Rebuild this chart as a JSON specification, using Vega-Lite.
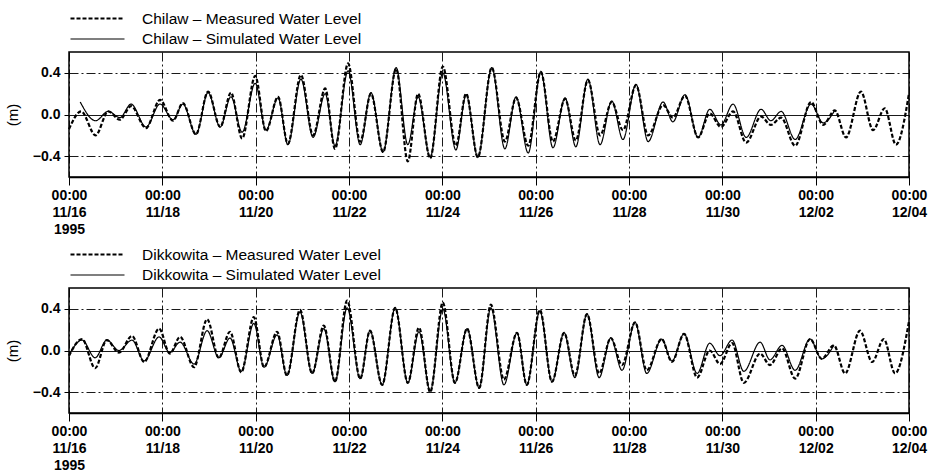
{
  "$schema": "https://vega.github.io/schema/vega-lite/v6.json",
  "background": "white",
  "padding": {"left": 4, "top": 7, "right": 20, "bottom": 2},
  "spacing": 6,
  "config": {
    "font": "Liberation Sans",
    "view": {"stroke": "black", "strokeWidth": 1.5},
    "axis": {
      "labelColor": "black", "titleColor": "black", "domainColor": "black", "tickColor": "black",
      "gridColor": "black", "gridOpacity": 1, "gridWidth": 0.9
    },
    "legend": {
      "orient": "top", "direction": "vertical", "title": null,
      "symbolType": "M-1,0L5,0", "symbolSize": 324, "symbolStrokeColor": "black", "symbolStrokeWidth": 1.6,
      "symbolFillColor": "transparent",
      "labelFontSize": 15.5, "labelColor": "black", "labelOffset": 52, "labelLimit": 0, "rowPadding": 2, "offset": 4, "padding": 0
    }
  },
  "datasets": {
    "chilaw": [
      {"day":0,"level":-0.14,"series":"Measured"},{"day":0.26,"level":0.03,"series":"Measured"},{"day":0.57,"level":-0.2,"series":"Measured"},{"day":0.84,"level":0.03,"series":"Measured"},{"day":1.09,"level":-0.05,"series":"Measured"},{"day":1.33,"level":0.08,"series":"Measured"},{"day":1.65,"level":-0.13,"series":"Measured"},{"day":1.95,"level":0.14,"series":"Measured"},{"day":2.23,"level":-0.06,"series":"Measured"},{"day":2.44,"level":0.11,"series":"Measured"},{"day":2.72,"level":-0.19,"series":"Measured"},{"day":2.98,"level":0.22,"series":"Measured"},{"day":3.24,"level":-0.12,"series":"Measured"},{"day":3.47,"level":0.21,"series":"Measured"},{"day":3.71,"level":-0.23,"series":"Measured"},{"day":3.99,"level":0.37,"series":"Measured"},{"day":4.22,"level":-0.16,"series":"Measured"},{"day":4.48,"level":0.17,"series":"Measured"},{"day":4.69,"level":-0.28,"series":"Measured"},{"day":4.97,"level":0.38,"series":"Measured"},{"day":5.23,"level":-0.2,"series":"Measured"},{"day":5.49,"level":0.25,"series":"Measured"},{"day":5.7,"level":-0.33,"series":"Measured"},{"day":5.98,"level":0.49,"series":"Measured"},{"day":6.24,"level":-0.26,"series":"Measured"},{"day":6.47,"level":0.2,"series":"Measured"},{"day":6.73,"level":-0.36,"series":"Measured"},{"day":7.01,"level":0.44,"series":"Measured"},{"day":7.26,"level":-0.45,"series":"Measured"},{"day":7.48,"level":0.2,"series":"Measured"},{"day":7.74,"level":-0.42,"series":"Measured"},{"day":8.01,"level":0.46,"series":"Measured"},{"day":8.29,"level":-0.3,"series":"Measured"},{"day":8.51,"level":0.2,"series":"Measured"},{"day":8.76,"level":-0.41,"series":"Measured"},{"day":9.06,"level":0.45,"series":"Measured"},{"day":9.34,"level":-0.26,"series":"Measured"},{"day":9.58,"level":0.16,"series":"Measured"},{"day":9.84,"level":-0.3,"series":"Measured"},{"day":10.11,"level":0.41,"series":"Measured"},{"day":10.37,"level":-0.26,"series":"Measured"},{"day":10.63,"level":0.15,"series":"Measured"},{"day":10.86,"level":-0.25,"series":"Measured"},{"day":11.12,"level":0.33,"series":"Measured"},{"day":11.38,"level":-0.2,"series":"Measured"},{"day":11.63,"level":0.12,"series":"Measured"},{"day":11.87,"level":-0.15,"series":"Measured"},{"day":12.15,"level":0.28,"series":"Measured"},{"day":12.41,"level":-0.2,"series":"Measured"},{"day":12.73,"level":0.09,"series":"Measured"},{"day":12.94,"level":-0.03,"series":"Measured"},{"day":13.2,"level":0.18,"series":"Measured"},{"day":13.48,"level":-0.22,"series":"Measured"},{"day":13.73,"level":0.01,"series":"Measured"},{"day":13.97,"level":-0.12,"series":"Measured"},{"day":14.23,"level":0.03,"series":"Measured"},{"day":14.51,"level":-0.27,"series":"Measured"},{"day":14.83,"level":-0.02,"series":"Measured"},{"day":15.04,"level":-0.1,"series":"Measured"},{"day":15.26,"level":-0.03,"series":"Measured"},{"day":15.56,"level":-0.3,"series":"Measured"},{"day":15.9,"level":0.12,"series":"Measured"},{"day":16.16,"level":-0.1,"series":"Measured"},{"day":16.41,"level":0.04,"series":"Measured"},{"day":16.65,"level":-0.22,"series":"Measured"},{"day":16.97,"level":0.22,"series":"Measured"},{"day":17.23,"level":-0.15,"series":"Measured"},{"day":17.48,"level":0.06,"series":"Measured"},{"day":17.72,"level":-0.29,"series":"Measured"},{"day":18,"level":0.2,"series":"Measured"},
      {"day":0.24,"level":0.12,"series":"Simulated"},{"day":0.57,"level":-0.06,"series":"Simulated"},{"day":0.84,"level":0.03,"series":"Simulated"},{"day":1.09,"level":-0.03,"series":"Simulated"},{"day":1.33,"level":0.1,"series":"Simulated"},{"day":1.65,"level":-0.12,"series":"Simulated"},{"day":1.95,"level":0.1,"series":"Simulated"},{"day":2.23,"level":-0.05,"series":"Simulated"},{"day":2.44,"level":0.1,"series":"Simulated"},{"day":2.72,"level":-0.19,"series":"Simulated"},{"day":2.98,"level":0.21,"series":"Simulated"},{"day":3.24,"level":-0.12,"series":"Simulated"},{"day":3.47,"level":0.17,"series":"Simulated"},{"day":3.71,"level":-0.17,"series":"Simulated"},{"day":3.99,"level":0.3,"series":"Simulated"},{"day":4.22,"level":-0.15,"series":"Simulated"},{"day":4.48,"level":0.16,"series":"Simulated"},{"day":4.69,"level":-0.29,"series":"Simulated"},{"day":4.97,"level":0.34,"series":"Simulated"},{"day":5.23,"level":-0.22,"series":"Simulated"},{"day":5.49,"level":0.2,"series":"Simulated"},{"day":5.7,"level":-0.3,"series":"Simulated"},{"day":5.98,"level":0.42,"series":"Simulated"},{"day":6.24,"level":-0.29,"series":"Simulated"},{"day":6.47,"level":0.21,"series":"Simulated"},{"day":6.73,"level":-0.36,"series":"Simulated"},{"day":7.01,"level":0.45,"series":"Simulated"},{"day":7.26,"level":-0.29,"series":"Simulated"},{"day":7.48,"level":0.17,"series":"Simulated"},{"day":7.74,"level":-0.41,"series":"Simulated"},{"day":8.01,"level":0.4,"series":"Simulated"},{"day":8.29,"level":-0.34,"series":"Simulated"},{"day":8.51,"level":0.19,"series":"Simulated"},{"day":8.76,"level":-0.41,"series":"Simulated"},{"day":9.06,"level":0.45,"series":"Simulated"},{"day":9.34,"level":-0.33,"series":"Simulated"},{"day":9.58,"level":0.17,"series":"Simulated"},{"day":9.84,"level":-0.37,"series":"Simulated"},{"day":10.11,"level":0.41,"series":"Simulated"},{"day":10.37,"level":-0.32,"series":"Simulated"},{"day":10.63,"level":0.16,"series":"Simulated"},{"day":10.86,"level":-0.31,"series":"Simulated"},{"day":11.12,"level":0.34,"series":"Simulated"},{"day":11.38,"level":-0.29,"series":"Simulated"},{"day":11.63,"level":0.13,"series":"Simulated"},{"day":11.87,"level":-0.24,"series":"Simulated"},{"day":12.15,"level":0.29,"series":"Simulated"},{"day":12.41,"level":-0.26,"series":"Simulated"},{"day":12.73,"level":0.12,"series":"Simulated"},{"day":12.94,"level":-0.07,"series":"Simulated"},{"day":13.2,"level":0.19,"series":"Simulated"},{"day":13.48,"level":-0.22,"series":"Simulated"},{"day":13.73,"level":0.05,"series":"Simulated"},{"day":13.97,"level":-0.1,"series":"Simulated"},{"day":14.23,"level":0.1,"series":"Simulated"},{"day":14.51,"level":-0.22,"series":"Simulated"},{"day":14.83,"level":0.05,"series":"Simulated"},{"day":15.04,"level":-0.06,"series":"Simulated"},{"day":15.26,"level":0.03,"series":"Simulated"},{"day":15.56,"level":-0.24,"series":"Simulated"},{"day":15.9,"level":0.1,"series":"Simulated"},{"day":16.16,"level":-0.08,"series":"Simulated"},{"day":16.41,"level":0.04,"series":"Simulated"}
    ],
    "dikkowita": [
      {"day":0,"level":-0.05,"series":"Measured"},{"day":0.28,"level":0.11,"series":"Measured"},{"day":0.56,"level":-0.17,"series":"Measured"},{"day":0.81,"level":0.1,"series":"Measured"},{"day":1.07,"level":-0.02,"series":"Measured"},{"day":1.35,"level":0.14,"series":"Measured"},{"day":1.61,"level":-0.11,"series":"Measured"},{"day":1.93,"level":0.21,"series":"Measured"},{"day":2.16,"level":-0.03,"series":"Measured"},{"day":2.38,"level":0.13,"series":"Measured"},{"day":2.68,"level":-0.16,"series":"Measured"},{"day":2.96,"level":0.3,"series":"Measured"},{"day":3.21,"level":-0.07,"series":"Measured"},{"day":3.45,"level":0.18,"series":"Measured"},{"day":3.69,"level":-0.21,"series":"Measured"},{"day":3.96,"level":0.32,"series":"Measured"},{"day":4.18,"level":-0.16,"series":"Measured"},{"day":4.46,"level":0.18,"series":"Measured"},{"day":4.67,"level":-0.24,"series":"Measured"},{"day":4.95,"level":0.39,"series":"Measured"},{"day":5.21,"level":-0.22,"series":"Measured"},{"day":5.46,"level":0.24,"series":"Measured"},{"day":5.7,"level":-0.3,"series":"Measured"},{"day":5.96,"level":0.48,"series":"Measured"},{"day":6.24,"level":-0.27,"series":"Measured"},{"day":6.45,"level":0.19,"series":"Measured"},{"day":6.71,"level":-0.33,"series":"Measured"},{"day":6.99,"level":0.41,"series":"Measured"},{"day":7.26,"level":-0.31,"series":"Measured"},{"day":7.5,"level":0.22,"series":"Measured"},{"day":7.74,"level":-0.4,"series":"Measured"},{"day":8.01,"level":0.46,"series":"Measured"},{"day":8.27,"level":-0.31,"series":"Measured"},{"day":8.53,"level":0.21,"series":"Measured"},{"day":8.79,"level":-0.36,"series":"Measured"},{"day":9.04,"level":0.44,"series":"Measured"},{"day":9.32,"level":-0.28,"series":"Measured"},{"day":9.6,"level":0.17,"series":"Measured"},{"day":9.81,"level":-0.33,"series":"Measured"},{"day":10.09,"level":0.39,"series":"Measured"},{"day":10.35,"level":-0.3,"series":"Measured"},{"day":10.61,"level":0.17,"series":"Measured"},{"day":10.84,"level":-0.24,"series":"Measured"},{"day":11.1,"level":0.35,"series":"Measured"},{"day":11.36,"level":-0.22,"series":"Measured"},{"day":11.61,"level":0.12,"series":"Measured"},{"day":11.85,"level":-0.14,"series":"Measured"},{"day":12.13,"level":0.27,"series":"Measured"},{"day":12.38,"level":-0.19,"series":"Measured"},{"day":12.7,"level":0.11,"series":"Measured"},{"day":12.92,"level":-0.11,"series":"Measured"},{"day":13.18,"level":0.16,"series":"Measured"},{"day":13.46,"level":-0.26,"series":"Measured"},{"day":13.73,"level":0.0,"series":"Measured"},{"day":13.95,"level":-0.13,"series":"Measured"},{"day":14.21,"level":0.07,"series":"Measured"},{"day":14.46,"level":-0.31,"series":"Measured"},{"day":14.81,"level":-0.03,"series":"Measured"},{"day":15.02,"level":-0.14,"series":"Measured"},{"day":15.28,"level":0.02,"series":"Measured"},{"day":15.56,"level":-0.27,"series":"Measured"},{"day":15.88,"level":0.11,"series":"Measured"},{"day":16.13,"level":-0.08,"series":"Measured"},{"day":16.39,"level":0.05,"series":"Measured"},{"day":16.63,"level":-0.22,"series":"Measured"},{"day":16.95,"level":0.19,"series":"Measured"},{"day":17.21,"level":-0.11,"series":"Measured"},{"day":17.46,"level":0.11,"series":"Measured"},{"day":17.7,"level":-0.22,"series":"Measured"},{"day":18,"level":0.28,"series":"Measured"},
      {"day":0,"level":-0.04,"series":"Simulated"},{"day":0.28,"level":0.1,"series":"Simulated"},{"day":0.56,"level":-0.07,"series":"Simulated"},{"day":0.81,"level":0.1,"series":"Simulated"},{"day":1.07,"level":0.0,"series":"Simulated"},{"day":1.35,"level":0.1,"series":"Simulated"},{"day":1.61,"level":-0.1,"series":"Simulated"},{"day":1.93,"level":0.13,"series":"Simulated"},{"day":2.16,"level":-0.02,"series":"Simulated"},{"day":2.38,"level":0.08,"series":"Simulated"},{"day":2.68,"level":-0.13,"series":"Simulated"},{"day":2.96,"level":0.19,"series":"Simulated"},{"day":3.21,"level":-0.07,"series":"Simulated"},{"day":3.45,"level":0.12,"series":"Simulated"},{"day":3.69,"level":-0.2,"series":"Simulated"},{"day":3.96,"level":0.26,"series":"Simulated"},{"day":4.18,"level":-0.16,"series":"Simulated"},{"day":4.46,"level":0.15,"series":"Simulated"},{"day":4.67,"level":-0.24,"series":"Simulated"},{"day":4.95,"level":0.37,"series":"Simulated"},{"day":5.21,"level":-0.22,"series":"Simulated"},{"day":5.46,"level":0.21,"series":"Simulated"},{"day":5.7,"level":-0.3,"series":"Simulated"},{"day":5.96,"level":0.41,"series":"Simulated"},{"day":6.24,"level":-0.27,"series":"Simulated"},{"day":6.45,"level":0.19,"series":"Simulated"},{"day":6.71,"level":-0.33,"series":"Simulated"},{"day":6.99,"level":0.41,"series":"Simulated"},{"day":7.26,"level":-0.31,"series":"Simulated"},{"day":7.5,"level":0.18,"series":"Simulated"},{"day":7.74,"level":-0.39,"series":"Simulated"},{"day":8.01,"level":0.4,"series":"Simulated"},{"day":8.27,"level":-0.31,"series":"Simulated"},{"day":8.53,"level":0.21,"series":"Simulated"},{"day":8.79,"level":-0.36,"series":"Simulated"},{"day":9.04,"level":0.41,"series":"Simulated"},{"day":9.32,"level":-0.33,"series":"Simulated"},{"day":9.6,"level":0.17,"series":"Simulated"},{"day":9.81,"level":-0.33,"series":"Simulated"},{"day":10.09,"level":0.38,"series":"Simulated"},{"day":10.35,"level":-0.3,"series":"Simulated"},{"day":10.61,"level":0.17,"series":"Simulated"},{"day":10.84,"level":-0.26,"series":"Simulated"},{"day":11.1,"level":0.35,"series":"Simulated"},{"day":11.36,"level":-0.26,"series":"Simulated"},{"day":11.61,"level":0.12,"series":"Simulated"},{"day":11.85,"level":-0.19,"series":"Simulated"},{"day":12.13,"level":0.27,"series":"Simulated"},{"day":12.38,"level":-0.22,"series":"Simulated"},{"day":12.7,"level":0.11,"series":"Simulated"},{"day":12.92,"level":-0.1,"series":"Simulated"},{"day":13.18,"level":0.16,"series":"Simulated"},{"day":13.46,"level":-0.22,"series":"Simulated"},{"day":13.73,"level":0.07,"series":"Simulated"},{"day":13.95,"level":-0.05,"series":"Simulated"},{"day":14.21,"level":0.1,"series":"Simulated"},{"day":14.46,"level":-0.2,"series":"Simulated"},{"day":14.81,"level":0.08,"series":"Simulated"},{"day":15.02,"level":-0.09,"series":"Simulated"},{"day":15.28,"level":0.05,"series":"Simulated"},{"day":15.56,"level":-0.19,"series":"Simulated"},{"day":15.88,"level":0.11,"series":"Simulated"},{"day":16.13,"level":-0.08,"series":"Simulated"},{"day":16.39,"level":0.05,"series":"Simulated"}
    ]
  },
  "vconcat": [
    {
      "width": 840, "height": 125,
      "data": {"name": "chilaw"},
      "mark": {"type": "line", "interpolate": "monotone", "color": "black"},
      "encoding": {
        "x": {"field": "day", "type": "quantitative", "scale": {"domain": [0, 18], "nice": false, "zero": false},
          "axis": {"title": null, "values": [0,2,4,6,8,10,12,14,16,18], "grid": true, "gridDash": [9,3,2,3],
            "tickSize": 8, "domainWidth": 1.5, "labelFontSize": 14, "labelFontWeight": "bold", "labelLineHeight": 17,
            "labelPadding": 3, "labelFlush": false, "labelOverlap": false, "labelBaseline": "top",
            "labelExpr": "datum.value == 0 ? ['00:00', '11/16', '1995'] : ['00:00', datum.value < 15 ? '11/' + (16 + datum.value) : '12/0' + (datum.value - 14)]"}},
        "y": {"field": "level", "type": "quantitative", "scale": {"domain": [-0.6, 0.6], "nice": false},
          "axis": {"title": "(m)", "titleFontSize": 15, "titleFontWeight": "normal", "titlePadding": 12,
            "values": [-0.4, 0, 0.4], "format": ".1f", "grid": true,
            "gridDash": {"condition": {"test": "datum.value == 0", "value": []}, "value": [9,3,2,3]},
            "tickSize": 5, "labelFontSize": 14, "labelFontWeight": "bold", "labelPadding": 4, "domain": false}},
        "strokeDash": {"field": "series", "type": "nominal",
          "scale": {"domain": ["Measured", "Simulated"], "range": [[4,2],[1,0]]},
          "legend": {"labelExpr": "'Chilaw – ' + datum.label + ' Water Level'"}},
        "strokeWidth": {"field": "series", "type": "nominal",
          "scale": {"domain": ["Measured", "Simulated"], "range": [2.2, 1.2]}, "legend": null}
      }
    },
    {
      "width": 840, "height": 125,
      "data": {"name": "dikkowita"},
      "mark": {"type": "line", "interpolate": "monotone", "color": "black"},
      "encoding": {
        "x": {"field": "day", "type": "quantitative", "scale": {"domain": [0, 18], "nice": false, "zero": false},
          "axis": {"title": null, "values": [0,2,4,6,8,10,12,14,16,18], "grid": true, "gridDash": [9,3,2,3],
            "tickSize": 8, "domainWidth": 1.5, "labelFontSize": 14, "labelFontWeight": "bold", "labelLineHeight": 17,
            "labelPadding": 3, "labelFlush": false, "labelOverlap": false, "labelBaseline": "top",
            "labelExpr": "datum.value == 0 ? ['00:00', '11/16', '1995'] : ['00:00', datum.value < 15 ? '11/' + (16 + datum.value) : '12/0' + (datum.value - 14)]"}},
        "y": {"field": "level", "type": "quantitative", "scale": {"domain": [-0.6, 0.6], "nice": false},
          "axis": {"title": "(m)", "titleFontSize": 15, "titleFontWeight": "normal", "titlePadding": 12,
            "values": [-0.4, 0, 0.4], "format": ".1f", "grid": true,
            "gridDash": {"condition": {"test": "datum.value == 0", "value": []}, "value": [9,3,2,3]},
            "tickSize": 5, "labelFontSize": 14, "labelFontWeight": "bold", "labelPadding": 4, "domain": false}},
        "strokeDash": {"field": "series", "type": "nominal",
          "scale": {"domain": ["Measured", "Simulated"], "range": [[4,2],[1,0]]},
          "legend": {"labelExpr": "'Dikkowita – ' + datum.label + ' Water Level'"}},
        "strokeWidth": {"field": "series", "type": "nominal",
          "scale": {"domain": ["Measured", "Simulated"], "range": [2.2, 1.2]}, "legend": null}
      }
    }
  ],
  "resolve": {"scale": {"strokeDash": "independent", "strokeWidth": "independent"}, "legend": {"strokeDash": "independent"}}
}
